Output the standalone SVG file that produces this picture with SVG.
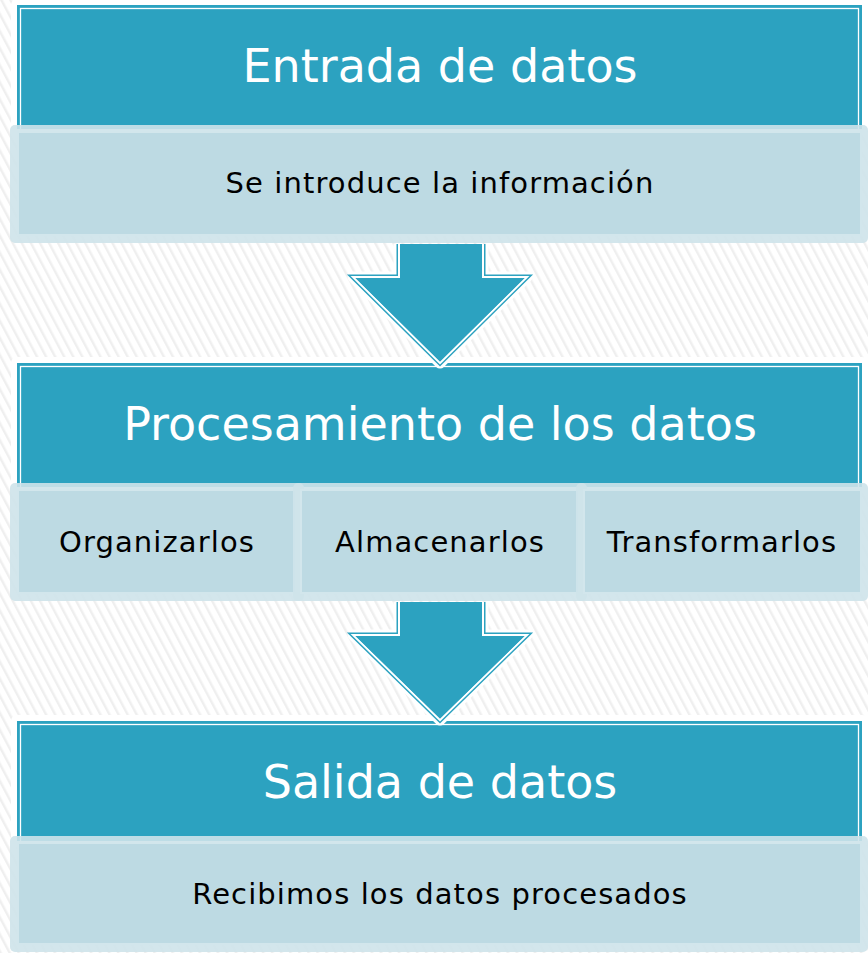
<svg xmlns="http://www.w3.org/2000/svg" width="868" height="953" viewBox="0 0 868 953">
  <defs>
    <pattern id="hatch" width="8" height="8" patternUnits="userSpaceOnUse" patternTransform="rotate(-28)">
      <rect width="8" height="8" fill="#ffffff"/>
      <rect x="0" y="0" width="2.4" height="8" fill="#efefef"/>
    </pattern>
    <style>
      .halo{fill:none;stroke:#ffffff;stroke-width:12;stroke-linejoin:round}
      .hdr{fill:#2ca2c0}
      .hdrline{fill:none;stroke:#ffffff;stroke-width:1.3}
      .band{fill:#cee3ea;fill-opacity:0.9}
      .inner{fill:#bddae3;stroke:#d2e6ec;stroke-width:2}
      .ttl{font-family:"DejaVu Sans",Verdana,sans-serif;font-size:46px;fill:#ffffff;text-anchor:middle}
      .txt{font-family:"DejaVu Sans",Verdana,sans-serif;font-size:29px;letter-spacing:1.1px;fill:#000000;text-anchor:middle}
      .ahalo{fill:none;stroke:#ffffff;stroke-width:11;stroke-linejoin:round;stroke-linecap:butt}
      .aedge{fill:none;stroke:#2ca2c0;stroke-width:5;stroke-linejoin:miter}
      .aline{fill:none;stroke:#ffffff;stroke-width:2;stroke-linejoin:miter}
      .afill{fill:#2ca2c0}
    </style>
  </defs>
  <rect x="0" y="0" width="868" height="953" fill="url(#hatch)"/>

  <g id="node-salida">
    <rect class="halo" x="17" y="721" width="845" height="120"/>
    <rect class="hdr" x="17" y="721" width="845" height="120"/>
    <rect class="hdrline" x="20.5" y="724.5" width="838" height="120"/>
    <text class="ttl" x="440" y="798">Salida de datos</text>
    <rect class="band" x="10" y="836" width="858" height="116" rx="5"/>
    <rect class="inner" x="18" y="843" width="843" height="101"/>
    <text class="txt" x="440" y="904">Recibimos los datos procesados</text>
  </g>

  <g id="node-procesamiento">
    <rect class="halo" x="17" y="363" width="845" height="124"/>
    <rect class="hdr" x="17" y="363" width="845" height="124"/>
    <rect class="hdrline" x="20.5" y="366.5" width="838" height="124"/>
    <text class="ttl" x="440" y="440">Procesamiento de los datos</text>
    <g id="node-organizarlos">
      <rect class="band" x="10" y="483" width="294" height="118" rx="5"/>
      <rect class="inner" x="18" y="490" width="278" height="103"/>
      <text class="txt" x="157" y="552">Organizarlos</text>
    </g>
    <g id="node-almacenarlos">
      <rect class="band" x="293" y="483" width="294" height="118" rx="5"/>
      <rect class="inner" x="301" y="490" width="278" height="103"/>
      <text class="txt" x="440" y="552">Almacenarlos</text>
    </g>
    <g id="node-transformarlos">
      <rect class="band" x="576" y="483" width="292" height="118" rx="5"/>
      <rect class="inner" x="584" y="490" width="277" height="103"/>
      <text class="txt" x="722" y="552">Transformarlos</text>
    </g>
  </g>

  <g id="node-entrada">
    <rect class="halo" x="17" y="5" width="845" height="124"/>
    <rect class="hdr" x="17" y="5" width="845" height="124"/>
    <rect class="hdrline" x="20.5" y="8.5" width="838" height="124"/>
    <text class="ttl" x="440" y="82">Entrada de datos</text>
    <rect class="band" x="10" y="125" width="858" height="118" rx="5"/>
    <rect class="inner" x="18" y="132" width="843" height="103"/>
    <text class="txt" x="440" y="193">Se introduce la información</text>
  </g>

  <g id="connectors">
    <g id="arrow-1">
      <path class="ahalo" d="M399 244 L399 277 L353 277 L440 363 L527 277 L483 277 L483 244"/>
      <path class="aedge" d="M399 244 L399 277 L353 277 L440 363 L527 277 L483 277 L483 244"/>
      <path class="aline" d="M399 244 L399 277 L353 277 L440 363 L527 277 L483 277 L483 244"/>
      <path class="afill" d="M400 244 L400 278 L355.5 278 L440 361.5 L524.5 278 L482 278 L482 244 Z"/>
    </g>
    <g id="arrow-2">
      <path class="ahalo" d="M399 602 L399 635 L353 635 L440 720 L527 635 L483 635 L483 602"/>
      <path class="aedge" d="M399 602 L399 635 L353 635 L440 720 L527 635 L483 635 L483 602"/>
      <path class="aline" d="M399 602 L399 635 L353 635 L440 720 L527 635 L483 635 L483 602"/>
      <path class="afill" d="M400 602 L400 636 L355.5 636 L440 718.5 L524.5 636 L482 636 L482 602 Z"/>
    </g>
  </g>
</svg>
